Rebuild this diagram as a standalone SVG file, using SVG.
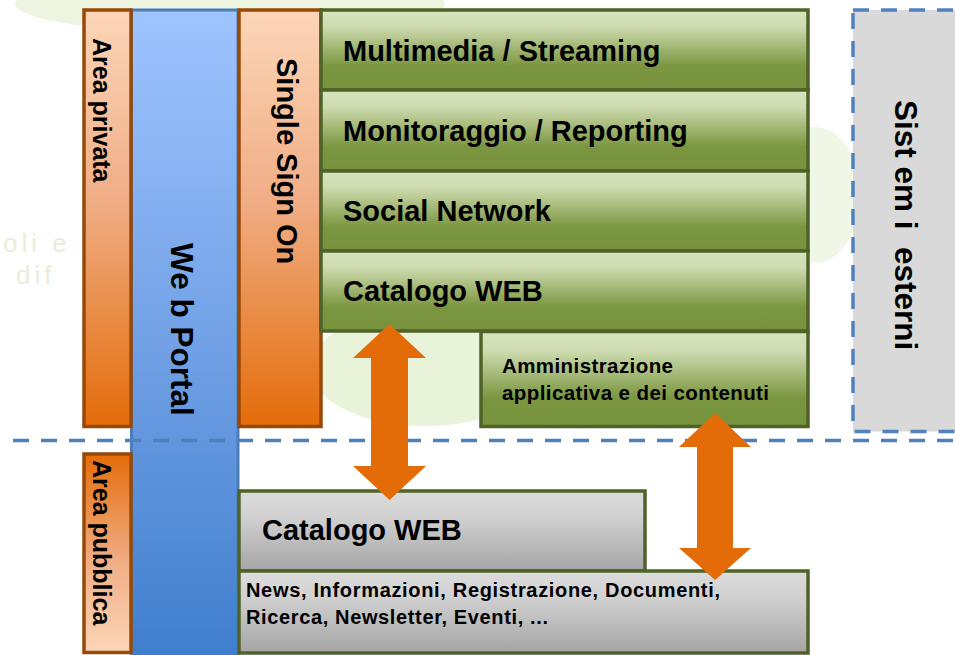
<svg xmlns="http://www.w3.org/2000/svg" width="955" height="655" viewBox="0 0 955 655">
  <defs>
    <linearGradient id="gPriv" x1="0" y1="0" x2="0" y2="1">
      <stop offset="0" stop-color="#fcd6b8"/>
      <stop offset="0.45" stop-color="#f0ae86"/>
      <stop offset="1" stop-color="#e46c0a"/>
    </linearGradient>
    <linearGradient id="gPub" x1="0" y1="0" x2="0" y2="1">
      <stop offset="0" stop-color="#e46c0a"/>
      <stop offset="0.55" stop-color="#f0ae86"/>
      <stop offset="1" stop-color="#fcd6b8"/>
    </linearGradient>
    <linearGradient id="gBlue" x1="0" y1="0" x2="0" y2="1">
      <stop offset="0" stop-color="#9fc4ff"/>
      <stop offset="0.5" stop-color="#72a1e6"/>
      <stop offset="1" stop-color="#3d7dcc"/>
    </linearGradient>
    <linearGradient id="gGreen" x1="0" y1="0" x2="0" y2="1">
      <stop offset="0" stop-color="#d8e4bd"/>
      <stop offset="0.2" stop-color="#cfdcb1"/>
      <stop offset="0.7" stop-color="#7b9640"/>
      <stop offset="1" stop-color="#76923c"/>
    </linearGradient>
    <linearGradient id="gGray" x1="0" y1="0" x2="0" y2="1">
      <stop offset="0" stop-color="#dcdcdc"/>
      <stop offset="0.3" stop-color="#d2d2d2"/>
      <stop offset="1" stop-color="#a5a5a5"/>
    </linearGradient>
    <style>
      .orange { stroke: #984807; stroke-width: 3.5; }
      .green { fill: url(#gGreen); stroke: #4f6228; stroke-width: 3.5; }
      .gray { fill: url(#gGray); stroke: #4f6228; stroke-width: 3.5; }
      .big { font-family: "Liberation Sans", Arial, sans-serif; font-weight: bold; font-size: 29px; fill: #000; }
      .small { font-family: "Liberation Sans", Arial, sans-serif; font-weight: bold; fill: #000; }
      .dash { fill: none; stroke: #4f81bd; stroke-width: 3.5; stroke-dasharray: 16 12; }
      .arrow { fill: #e36c09; }
      .bgtext { font-family: "Liberation Sans", Arial, sans-serif; font-size: 26px; fill: #e3efd7; letter-spacing: 4px; }
    </style>
  </defs>

  <rect x="0" y="0" width="955" height="655" fill="#ffffff"/>

  <!-- background decoration -->
  <g id="background">
    <ellipse cx="230" cy="4" rx="215" ry="30" fill="#edf5e1"/>
    <ellipse cx="815" cy="195" rx="45" ry="68" fill="#f0f7e6"/>
    <ellipse cx="425" cy="368" rx="115" ry="58" fill="#e8f3da"/>
    <text class="bgtext" x="3" y="252">oli e</text>
    <text class="bgtext" x="16" y="284">dif</text>
  </g>

  <!-- Web Portal -->
  <g id="web-portal">
    <rect x="131.5" y="10" width="106.5" height="660" fill="url(#gBlue)" stroke="#4a7ebb" stroke-width="3"/>
    <text class="big" style="font-size:31.5px;white-space:pre" transform="translate(171,243) rotate(90)">We b Portal</text>
  </g>

  <!-- Area privata -->
  <g id="area-privata">
    <rect class="orange" x="84" y="10" width="47" height="416.5" fill="url(#gPriv)"/>
    <text class="small" style="font-size:25px" transform="translate(93,38) rotate(90)">Area privata</text>
  </g>

  <!-- Single Sign On -->
  <g id="single-sign-on">
    <rect class="orange" x="239" y="10" width="82" height="416.5" fill="url(#gPriv)"/>
    <text class="big" transform="translate(277,58) rotate(90)">Single Sign On</text>
  </g>

  <!-- Area pubblica -->
  <g id="area-pubblica">
    <rect class="orange" x="84" y="454" width="47" height="198.5" fill="url(#gPub)"/>
    <text class="small" style="font-size:25px" transform="translate(93,460) rotate(90)">Area pubblica</text>
  </g>

  <!-- Green services -->
  <g id="multimedia">
    <rect class="green" x="321" y="10" width="487" height="80"/>
    <text class="big" x="343" y="61">Multimedia / Streaming</text>
  </g>
  <g id="monitoraggio">
    <rect class="green" x="321" y="90" width="487" height="81"/>
    <text class="big" x="343" y="141">Monitoraggio / Reporting</text>
  </g>
  <g id="social-network">
    <rect class="green" x="321" y="171" width="487" height="80"/>
    <text class="big" x="343" y="221">Social Network</text>
  </g>
  <g id="catalogo-web-private">
    <rect class="green" x="321" y="251" width="487" height="80"/>
    <text class="big" x="343" y="301">Catalogo WEB</text>
  </g>
  <g id="amministrazione">
    <rect class="green" x="481" y="331.5" width="327" height="95"/>
    <text class="small" style="font-size:20.5px" x="502" y="373" textLength="171" lengthAdjust="spacing">Amministrazione</text>
    <text class="small" style="font-size:20.5px" x="502" y="400" textLength="267" lengthAdjust="spacing">applicativa e dei contenuti</text>
  </g>

  <!-- Sistemi esterni -->
  <g id="sistemi-esterni">
    <rect x="853" y="10" width="120" height="421.5" fill="#d9d9d9" stroke="#4f81bd" stroke-width="3.5" stroke-dasharray="16 12"/>
    <text class="big" style="font-size:31.5px;white-space:pre" transform="translate(894.5,100) rotate(90)">Sist em i  esterni</text>
  </g>

  <!-- Public area boxes -->
  <g id="catalogo-web-public">
    <rect class="gray" x="239" y="491" width="406" height="80"/>
    <text class="big" x="262" y="540">Catalogo WEB</text>
  </g>
  <g id="news">
    <rect class="gray" x="239" y="571" width="569" height="82"/>
    <text class="small" style="font-size:20px" x="246" y="597" textLength="474" lengthAdjust="spacing">News, Informazioni, Registrazione, Documenti,</text>
    <text class="small" style="font-size:20px" x="246" y="624" textLength="302" lengthAdjust="spacing">Ricerca, Newsletter, Eventi, ...</text>
  </g>

  <!-- Connectors -->
  <g id="connectors">
    <line class="dash" x1="13" y1="440.5" x2="960" y2="440.5"/>
    <path class="arrow" d="M389.5,324 L426,358 L408,358 L408,466 L426,466 L389.5,500 L353,466 L371,466 L371,358 L353,358 Z"/>
    <path class="arrow" d="M715,413 L751,447 L733,447 L733,548 L751,548 L715,580 L679,548 L697,548 L697,447 L679,447 Z"/>
  </g>
</svg>
